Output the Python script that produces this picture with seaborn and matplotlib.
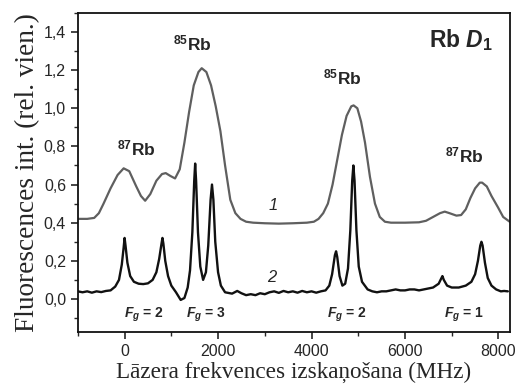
import matplotlib
matplotlib.use("Agg")
import matplotlib.pyplot as plt
import seaborn as sns
import pandas as pd
from matplotlib.ticker import MultipleLocator, FuncFormatter

# ---- data ----
x1 = [-1000, -800, -650, -550, -450, -300, -150, -20, 100, 250, 350, 440, 550, 680,
      800, 880, 980, 1080, 1180, 1280, 1380, 1480, 1580, 1650, 1750, 1850, 1950,
      2050, 2150, 2262, 2370, 2480, 2600, 2750, 3000, 3300, 3600, 3900, 4050, 4150,
      4250, 4350, 4450, 4550, 4650, 4750, 4850, 4900, 4980, 5060, 5144, 5250, 5357,
      5460, 5570, 5700, 6000, 6300, 6450, 6600, 6750, 6850, 6950, 7100, 7200, 7300,
      7400, 7500, 7600, 7650, 7750, 7850, 7990, 8100, 8240]
y1 = [0.42, 0.42, 0.425, 0.45, 0.50, 0.58, 0.65, 0.685, 0.67, 0.59, 0.54, 0.515, 0.55, 0.62,
      0.655, 0.66, 0.645, 0.632, 0.68, 0.82, 0.98, 1.12, 1.19, 1.21, 1.19, 1.12, 1.01,
      0.88, 0.70, 0.52, 0.45, 0.42, 0.405, 0.40, 0.397, 0.395, 0.397, 0.40, 0.405, 0.42,
      0.45, 0.50, 0.60, 0.73, 0.86, 0.96, 1.01, 1.015, 1.0, 0.93, 0.82, 0.64, 0.50,
      0.43, 0.405, 0.40, 0.40, 0.402, 0.41, 0.43, 0.45, 0.458, 0.45, 0.437, 0.44, 0.47,
      0.53, 0.58, 0.61, 0.61, 0.59, 0.54, 0.48, 0.43, 0.405]

x2 = [-1000, -900, -800, -700, -600, -500, -400, -300, -200, -120, -60, -20, 0, 20, 60,
      120, 200, 300, 400, 500, 600, 680, 740, 790, 810, 830, 870, 930, 1000, 1100,
      1200, 1280, 1350, 1400, 1450, 1490, 1510, 1530, 1570, 1620, 1680, 1740, 1790,
      1840, 1870, 1900, 1940, 2000, 2060, 2150, 2300, 2410, 2500, 2600, 2700, 2800, 2900,
      3000, 3100, 3200, 3300, 3400, 3500, 3600, 3700, 3800, 3900, 4000, 4100, 4200,
      4300, 4380, 4440, 4500, 4525, 4550, 4600, 4660, 4720, 4780, 4830, 4870, 4895,
      4920, 4960, 5010, 5080, 5200, 5300, 5400, 5500, 5600, 5700, 5800, 5900, 6000,
      6100, 6200, 6300, 6400, 6500, 6600, 6720, 6780, 6800, 6830, 6900, 7000, 7150,
      7300, 7420, 7500, 7560, 7610, 7635, 7660, 7710, 7770, 7850, 7950, 8050, 8120, 8200]
y2 = [0.04, 0.035, 0.04, 0.033, 0.04, 0.036, 0.042, 0.045, 0.065, 0.10, 0.18, 0.27, 0.32, 0.28, 0.19,
      0.12, 0.09, 0.08, 0.078, 0.082, 0.10, 0.14, 0.21, 0.29, 0.32, 0.29, 0.20, 0.12, 0.07, 0.035,
      -0.005, 0.005, 0.06, 0.15, 0.35, 0.62, 0.71, 0.62, 0.35, 0.17, 0.10, 0.14, 0.28,
      0.52, 0.60, 0.52, 0.30, 0.14, 0.07, 0.035, 0.028, 0.042, 0.03, 0.02, 0.025, 0.02, 0.03,
      0.025, 0.035, 0.04, 0.032, 0.042, 0.035, 0.04, 0.033, 0.042, 0.035, 0.04, 0.033, 0.04,
      0.045, 0.07, 0.13, 0.23, 0.25, 0.22, 0.12, 0.07, 0.08, 0.16, 0.36, 0.62, 0.70,
      0.62, 0.36, 0.17, 0.09, 0.05, 0.04, 0.035, 0.04, 0.04, 0.045, 0.05, 0.045, 0.045,
      0.05, 0.05, 0.045, 0.05, 0.055, 0.06, 0.08, 0.11, 0.12, 0.10, 0.07, 0.06, 0.06,
      0.07, 0.09, 0.13, 0.20, 0.28, 0.30, 0.28, 0.19, 0.11, 0.07, 0.05, 0.04, 0.042, 0.04]

xticks = [0, 2000, 4000, 6000, 8000]
yticks = [0.0, 0.2, 0.4, 0.6, 0.8, 1.0, 1.2, 1.4]

df1 = pd.DataFrame({"x": x1, "y": y1})
df2 = pd.DataFrame({"x": x2, "y": y2})

sns.set_style("ticks")
plt.rcParams["font.family"] = ["Liberation Sans", "DejaVu Sans"]
plt.rcParams["mathtext.fontset"] = "custom"
plt.rcParams["mathtext.rm"] = "Liberation Sans:bold"
plt.rcParams["mathtext.it"] = "Liberation Sans:italic:bold"
plt.rcParams["mathtext.bf"] = "Liberation Sans:bold"

fig = plt.figure(figsize=(5.19, 3.91), dpi=100)
ax = fig.add_axes([0.150, 0.151, 0.833, 0.816])

sns.lineplot(data=df1, x="x", y="y", ax=ax, color="#5f5f5f", lw=1.6, estimator=None)
sns.lineplot(data=df2, x="x", y="y", ax=ax, color="#111111", lw=1.7, estimator=None)

ax.set_xlim(-1000, 8250)
ax.set_ylim(-0.173, 1.5)
ax.set_xticks(xticks)
ax.set_yticks(yticks)
ax.xaxis.set_minor_locator(MultipleLocator(1000))
ax.yaxis.set_minor_locator(MultipleLocator(0.1))
ax.yaxis.set_major_formatter(FuncFormatter(lambda v, p: f"{v:.1f}".replace(".", ",")))
ax.xaxis.set_major_formatter(FuncFormatter(lambda v, p: f"{v:.0f}"))
ax.tick_params(which="major", direction="out", length=5, width=1.2, labelsize=11.5)
ax.tick_params(which="minor", direction="out", length=3, width=1.0)
for s in ax.spines.values():
    s.set_linewidth(1.3)
    s.set_color("#111111")

serif = ["Liberation Serif", "DejaVu Serif"]
xl = ax.set_xlabel("Lāzera frekvences izskaņošana (MHz)", family=serif, fontsize=15, labelpad=2)
yl = ax.set_ylabel("Fluorescences int. (rel. vien.)", family=serif, fontsize=15, labelpad=3)

lab = dict(fontsize=12.5, fontweight="bold", ha="center", va="center")
ax.text(256, 0.79, r"$^{87}$Rb", **lab)
ax.text(1450, 1.34, r"$^{85}$Rb", **lab)
ax.text(4660, 1.16, r"$^{85}$Rb", **lab)
ax.text(7260, 0.755, r"$^{87}$Rb", **lab)
ax.text(7880, 1.36, r"Rb $D_1$", fontsize=16.5, fontweight="bold", ha="right", va="center")

ax.text(3180, 0.49, "1", fontsize=12, style="italic", ha="center", va="center")
ax.text(3150, 0.11, "2", fontsize=12, style="italic", ha="center", va="center")

fg = dict(fontsize=10, fontweight="bold", ha="center", va="center")
ax.text(410, -0.085, r"$F_g$ = 2", **fg)
ax.text(1730, -0.085, r"$F_g$ = 3", **fg)
ax.text(4760, -0.085, r"$F_g$ = 2", **fg)
ax.text(7260, -0.085, r"$F_g$ = 1", **fg)

# fit axis-label sizes to the reference's pixel extents
fig.canvas.draw()
r = fig.canvas.get_renderer()
wx = xl.get_window_extent(r).width
xl.set_fontsize(15 * 358 / wx)
hy = yl.get_window_extent(r).height
yl.set_fontsize(15 * 320 / hy)

fig.savefig("out.png", dpi=100)
